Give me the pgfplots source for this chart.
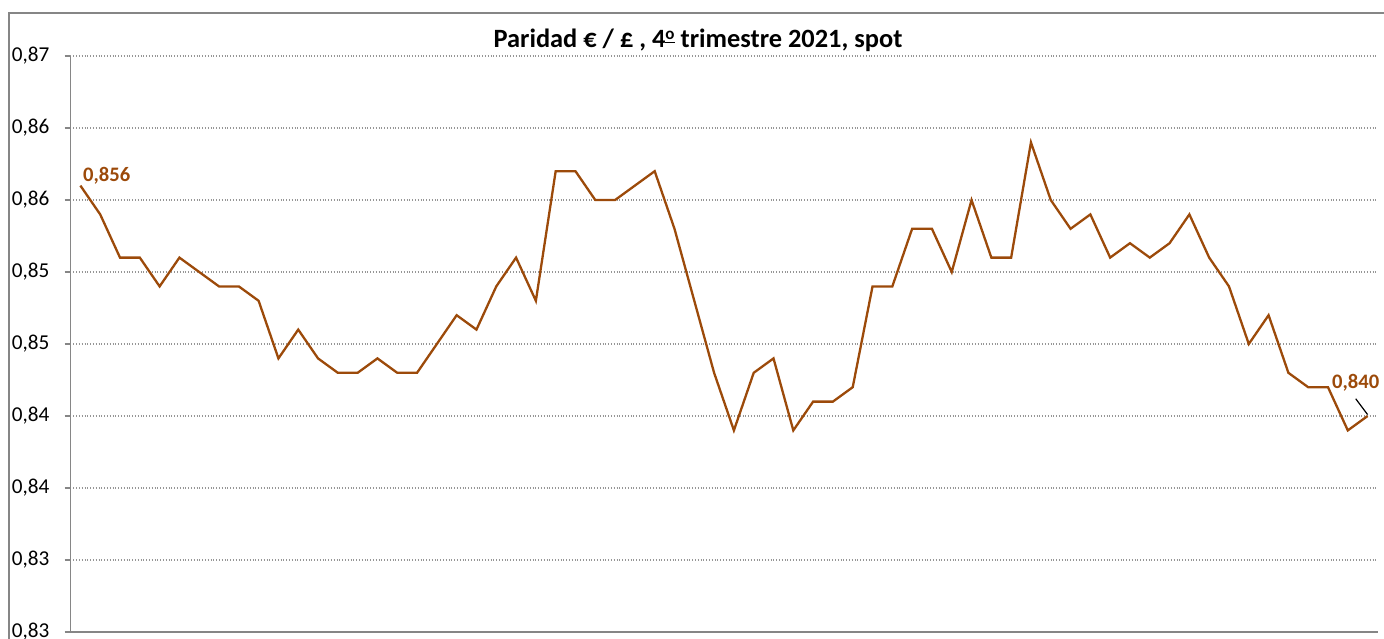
\documentclass[border=0pt]{standalone}
\usepackage{fontspec}
\setmainfont{Carlito}
\usepackage{pgfplots}
\pgfplotsset{compat=1.18}
\definecolor{serie}{RGB}{156,74,10}
\definecolor{eje}{RGB}{134,134,134}
\definecolor{malla}{RGB}{150,150,150}
% ordinal sign with its bar, as Calibri draws it
\newcommand{\ordo}{\raisebox{0.62ex}{\fontsize{8.5}{9}\selectfont\underline{o}}}

\begin{document}
\begin{tikzpicture}
% canvas: 1 px of the reference = 0.5pt
\useasboundingbox (0,0) rectangle (692pt,319pt);
\draw[eje, line width=0.8pt] (4.5pt,-20pt) rectangle (720pt,312.5pt);
\node[font=\fontsize{13.2}{15}\selectfont\bfseries] at (349pt,299pt) {Paridad € / £ , 4\ordo\ trimestre 2021, spot};
\begin{axis}[
  at={(35.25pt,3pt)}, anchor=south west,
  scale only axis, width=653.5pt, height=288pt,
  xmin=-0.5, xmax=65.5, ymin=0.825, ymax=0.865,
  axis x line*=bottom, axis y line*=left,
  axis line style={eje, line width=0.8pt},
  xtick=\empty,
  ytick={0.825,0.830,0.835,0.840,0.845,0.850,0.855,0.860,0.865},
  yticklabels={{0,83},{0,83},{0,84},{0,84},{0,85},{0,85},{0,86},{0,86},{0,87}},
  yticklabel style={font=\fontsize{10.6}{12}\selectfont, anchor=east, xshift=-4pt},
  tick align=outside, major tick length=3pt,
  tick style={eje, line width=0.8pt},
  ymajorgrids, grid style={malla, densely dotted, line width=0.6pt},
  clip=false,
]
\addplot[serie, line width=1.15pt, mark=none] coordinates {
(0,0.856)(1,0.854)(2,0.851)(3,0.851)(4,0.849)(5,0.851)(6,0.850)(7,0.849)(8,0.849)(9,0.848)
(10,0.844)(11,0.846)(12,0.844)(13,0.843)(14,0.843)(15,0.844)(16,0.843)(17,0.843)(18,0.845)(19,0.847)
(20,0.846)(21,0.849)(22,0.851)(23,0.848)(24,0.857)(25,0.857)(26,0.855)(27,0.855)(28,0.856)(29,0.857)
(30,0.853)(31,0.848)(32,0.843)(33,0.839)(34,0.843)(35,0.844)(36,0.839)(37,0.841)(38,0.841)(39,0.842)
(40,0.849)(41,0.849)(42,0.853)(43,0.853)(44,0.850)(45,0.855)(46,0.851)(47,0.851)(48,0.859)(49,0.855)
(50,0.853)(51,0.854)(52,0.851)(53,0.852)(54,0.851)(55,0.852)(56,0.854)(57,0.851)(58,0.849)(59,0.845)
(60,0.847)(61,0.843)(62,0.842)(63,0.842)(64,0.839)(65,0.840)};
\node[serie, anchor=west, inner sep=0pt, font=\fontsize{10.3}{12}\selectfont\bfseries] at (axis cs:0.12,0.8567) {0,856};
\node[serie, anchor=center, inner sep=0pt, font=\fontsize{10.3}{12}\selectfont\bfseries] at (axis cs:64.4,0.8423) {0,840};
\draw[black, line width=0.6pt] (axis cs:64.4,0.8412) -- (axis cs:65,0.8401);
\end{axis}
\end{tikzpicture}
\end{document}
